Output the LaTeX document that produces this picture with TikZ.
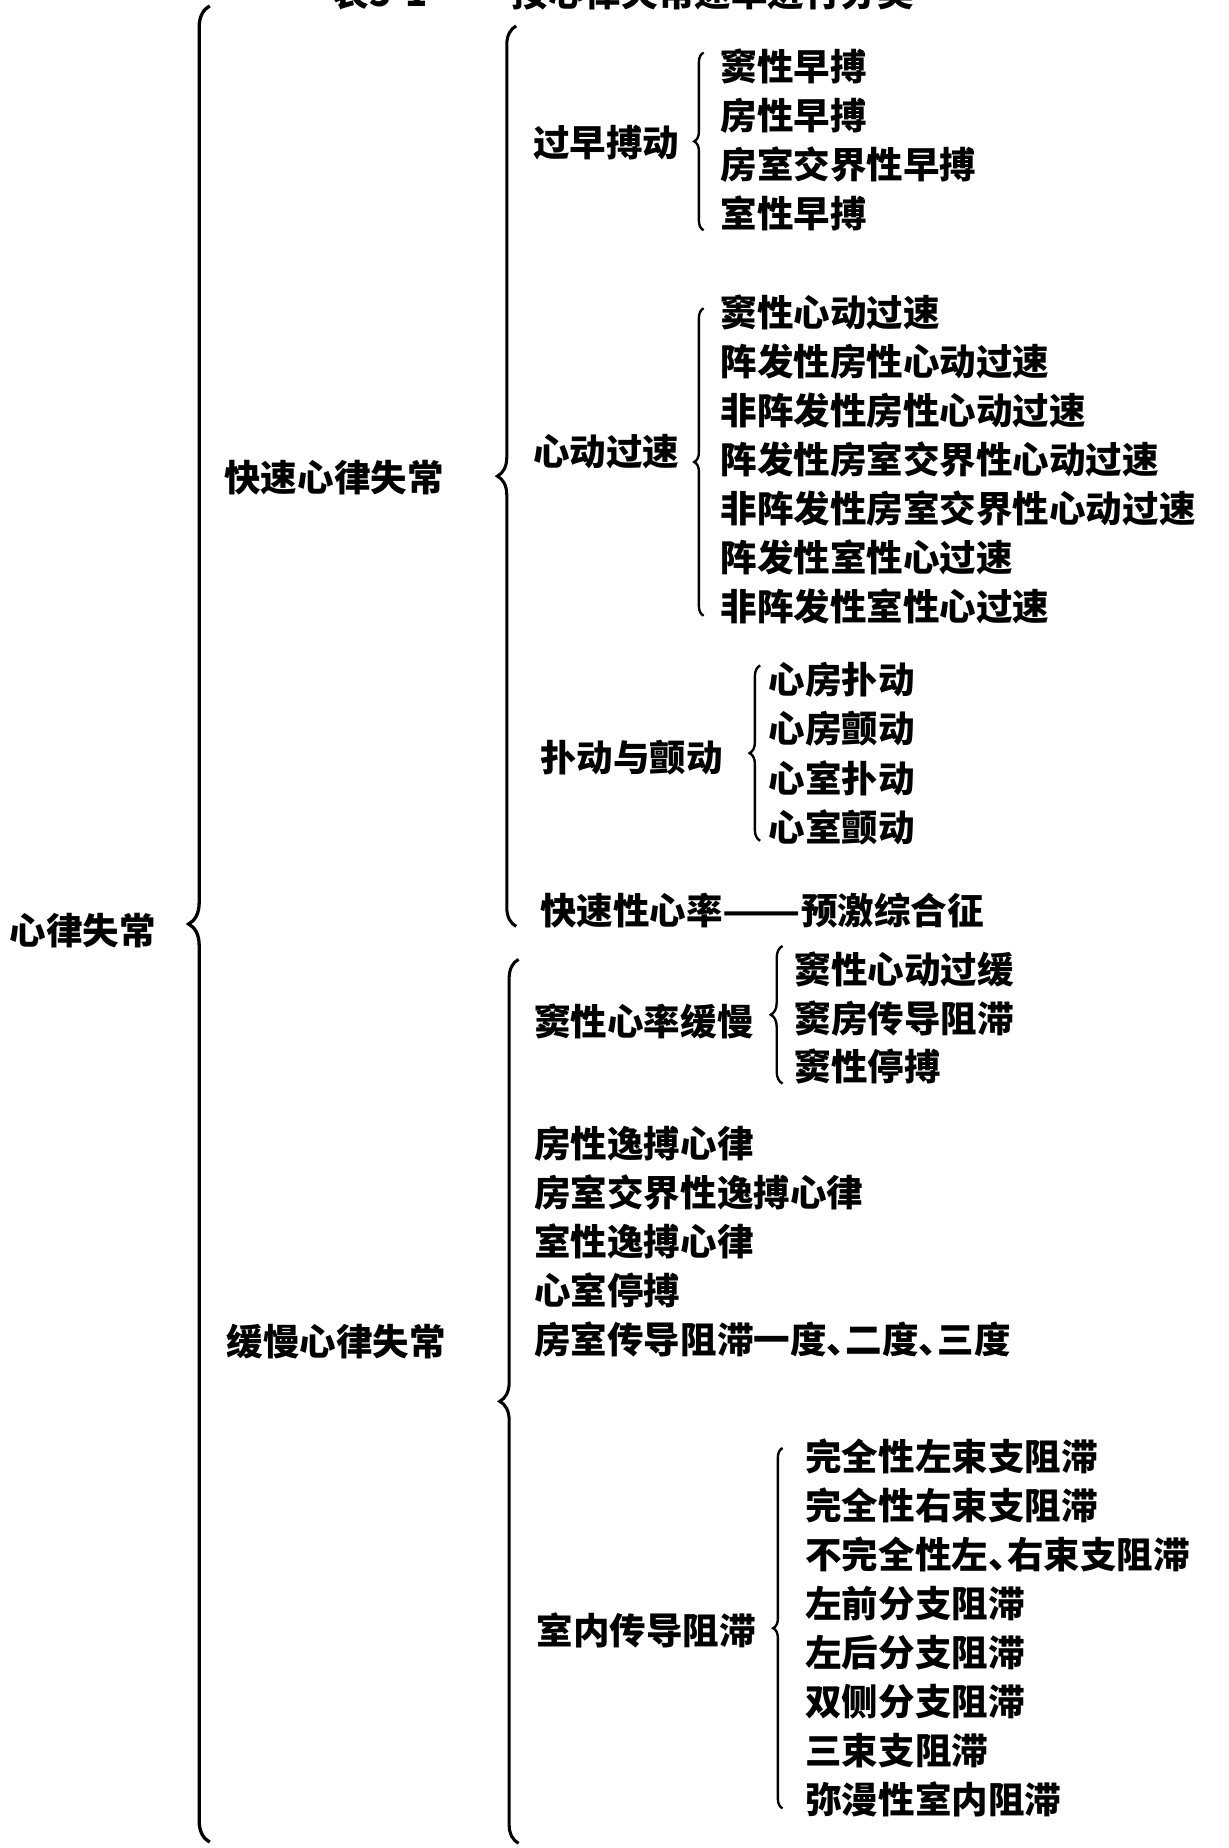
\documentclass[tikz,border=0pt]{standalone}
\usepackage{fontspec}
\setmainfont{Noto Sans CJK SC}
\usetikzlibrary{decorations.pathreplacing, calc}
\newcommand\dun{\makebox[0.52em][l]{、}} % narrow enumeration comma
\tikzset{
  term/.style={anchor=west, inner sep=0pt, font=\bfseries\fontsize{15.5}{18}\selectfont,
    text height=13.6pt, text depth=1.9pt}, % one entry of the table
  curly/.style={decorate, decoration={brace, amplitude=#1}, line width=1pt}, % a brace that opens to the right
}

\begin{document}
\begin{tikzpicture}[x=0.5pt, y=-0.5pt]
  \useasboundingbox (0,0) rectangle (1042,1568);
  % title, cut by the top edge
  \node[term] (title) at (282,-6) {表5-1\hspace{2.3em}按心律失常速率进行分类};
  % first and second level
  \node[term] (root) at (8,790) {心律失常};
  \node[term] (fast) at (190,405) {快速心律失常};
  \node[term] (slow) at (192,1138) {缓慢心律失常};
  \coordinate (roottop) at (178,5);
  \coordinate (rootbot) at (178,1563);
  \draw[curly=9pt, line width=1.4pt] (rootbot) -- (roottop);
  \coordinate (fasttop) at (438,22);
  \coordinate (fastbot) at (438,786);
  \draw[curly=8pt, line width=1.3pt] (fastbot) -- (fasttop);
  \coordinate (slowtop) at (440,814);
  \coordinate (slowbot) at (440,1564);
  \draw[curly=8pt, line width=1.3pt] (slowbot) -- (slowtop);
  % fast arrhythmias
  \node[term] (zaobo) at (452,121) {过早搏动};
  \foreach \t [count=\i] in {窦性早搏, 房性早搏, 房室交界性早搏, 室性早搏}
    \node[term] (zb\i) at (611,{57+41.33*(\i-1)}) {\t};
  \draw[curly=4pt] ($(zb4.south west)+(-14,-1.5)$) -- ($(zb1.north west)+(-14,3.5)$);
  \node[term] (guosu) at (452,383) {心动过速};
  \foreach \t [count=\i] in {窦性心动过速, 阵发性房性心动过速, 非阵发性房性心动过速,
      阵发性房室交界性心动过速, 非阵发性房室交界性心动过速, 阵发性室性心过速, 非阵发性室性心过速}
    \node[term] (gs\i) at (611,{265+41.67*(\i-1)}) {\t};
  \draw[curly=4pt] ($(gs7.south west)+(-14,-8.5)$) -- ($(gs1.north west)+(-14,12.5)$);
  \node[term] (pudong) at (458,643) {扑动与颤动};
  \foreach \t [count=\i] in {心房扑动, 心房颤动, 心室扑动, 心室颤动}
    \node[term] (pc\i) at (652,{577+41.67*(\i-1)}) {\t};
  \draw[curly=4.5pt] ($(pc4.south west)+(-7,-4.5)$) -- ($(pc1.north west)+(-7,3.5)$);
  \node[term] (yuji) at (458,773) {快速性心率\scalebox{1.25}[1]{——}预激综合征};
  % slow arrhythmias
  \node[term] (douman) at (453,867) {窦性心率缓慢};
  \foreach \t [count=\i] in {窦性心动过缓, 窦房传导阻滞, 窦性停搏}
    \node[term] (dm\i) at (674,{823+41*(\i-1)}) {\t};
  \draw[curly=5pt] ($(dm3.south west)+(-10,-1.5)$) -- ($(dm1.north west)+(-10,-4.5)$);
  \foreach \t [count=\i] in {房性逸搏心律, 房室交界性逸搏心律, 室性逸搏心律, 心室停搏,
      房室传导阻滞一度\dun 二度\dun 三度}
    \node[term] (yb\i) at (453,{970+41.75*(\i-1)}) {\t};
  \node[term] (shinei) at (455,1384) {室内传导阻滞};
  \foreach \t [count=\i] in {完全性左束支阻滞, 完全性右束支阻滞, 不完全性左\dun 右束支阻滞,
      左前分支阻滞, 左后分支阻滞, 双侧分支阻滞, 三束支阻滞, 弥漫性室内阻滞}
    \node[term] (sn\i) at (683,{1236+41.57*(\i-1)}) {\t};
  \draw[curly=4pt] ($(sn8.south west)+(-19,-8.5)$) -- ($(sn1.north west)+(-19,8.5)$);
\end{tikzpicture}
\end{document}
